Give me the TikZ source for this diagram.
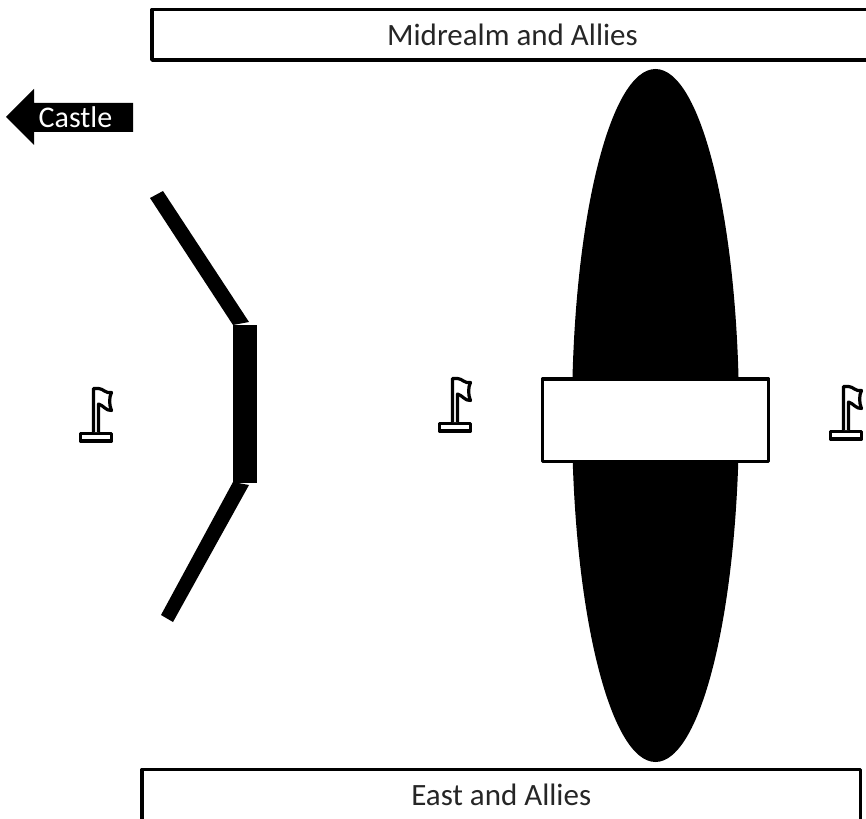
\documentclass[tikz,border=0pt]{standalone}
\usepackage{fontspec}
\setmainfont{Carlito}
\tikzset{
  labelbox/.style={draw=black,line width=3.6pt,line join=round,fill=white,inner sep=0pt,outer sep=0pt,anchor=north west,align=center,font=\fontsize{31}{34}\selectfont,text=black!85},
  pics/flagmark/.style={code={
    \draw[black,line width=3.8pt,line join=round,fill=white] (80.5,433.5) rectangle (111.5,441);
    \draw[black,line width=3.2pt,line join=round,fill=white] (93.5,432) -- (93.5,388.5) -- (98.5,388.5)
      .. controls (103,388.5) and (106,394) .. (111.5,392.5)
      .. controls (109,397) and (109,405) .. (111.5,410.5)
      .. controls (106,411) and (103,405) .. (98.5,404) -- (98.5,432);
  }}
}
\begin{document}
\begin{tikzpicture}[x=1pt,y=-1pt]
\useasboundingbox (0,0) rectangle (866,818);
\fill[white] (0,0) rectangle (866,818);
\fill[black] (655.5,415.5) ellipse [x radius=83.5, y radius=346.5];
\node[labelbox,minimum width=721pt,minimum height=50.5pt] (midbox) at (152,9.5) {Midrealm and Allies};
\node[labelbox,minimum width=718.5pt,minimum height=51pt] (eastbox) at (142,769.5) {East and Allies};
\node[labelbox,minimum width=226pt,minimum height=82.5pt] (centerbox) at (542.5,379) {};
\fill[black] (6,117) -- (34,89) -- (34,103) -- (133,103) -- (133,132) -- (34,132) -- (34,145) -- cycle;
\node[text=white,font=\fontsize{30}{32}\selectfont] (castle) at (75.5,117) {Castle};
\fill[black] (150,198) -- (163,191) -- (249,322) -- (233,325) -- cycle;
\fill[black] (233,325) rectangle (257,483);
\fill[black] (233,482) -- (249,485) -- (173,622) -- (161,615) -- cycle;
\pic at (0,0) {flagmark};
\pic at (359,-10) {flagmark};
\pic at (750,-2) {flagmark};
\end{tikzpicture}
\end{document}
